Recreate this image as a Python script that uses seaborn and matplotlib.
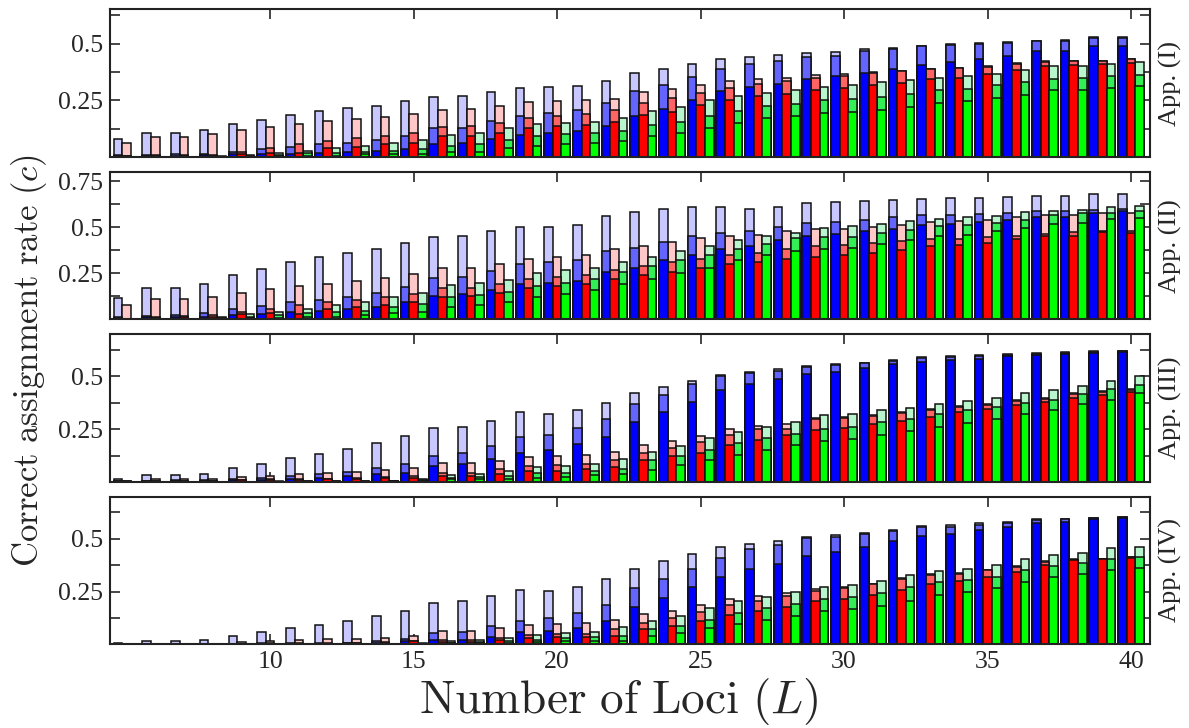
import numpy as np
import pandas as pd
import matplotlib
matplotlib.use("Agg")
import matplotlib.pyplot as plt
import seaborn as sns

# number of loci on the x axis
L = list(range(5, 41))

# App. (I)
p1_blue_light = [.078, .107, .108, .121, .145, .162, .184, .202, .216, .224, .247, .266, .270, .288, .306, .308, .314, .333, .370, .390, .412, .434, .440, .449, .459, .462, .474, .481, .491, .496, .501, .506, .513, .516, .528, .528]
p1_blue_mid = [.010, .010, .012, .015, .023, .034, .045, .057, .063, .075, .094, .126, .130, .158, .183, .194, .208, .237, .291, .319, .354, .387, .409, .425, .440, .447, .466, .477, .489, .494, .498, .503, .509, .512, .524, .524]
p1_blue_dark = [.005, .006, .007, .008, .012, .012, .015, .016, .023, .026, .035, .057, .063, .079, .096, .104, .114, .136, .183, .211, .250, .289, .307, .323, .345, .357, .371, .389, .406, .418, .430, .447, .469, .469, .488, .488]
p1_red_light = [.063, .089, .090, .101, .121, .132, .146, .159, .167, .175, .189, .209, .213, .225, .243, .246, .251, .257, .285, .298, .317, .333, .342, .350, .360, .364, .374, .379, .390, .393, .400, .415, .422, .425, .425, .433]
p1_red_mid = [.005, .008, .010, .010, .023, .038, .057, .070, .085, .092, .108, .133, .135, .152, .172, .181, .189, .206, .237, .259, .282, .306, .323, .333, .350, .355, .371, .377, .388, .391, .398, .412, .420, .423, .423, .431]
p1_red_dark = [.003, .004, .005, .005, .015, .019, .018, .041, .045, .056, .064, .092, .091, .105, .126, .135, .140, .154, .184, .200, .228, .253, .269, .279, .297, .304, .316, .326, .342, .350, .364, .382, .399, .404, .408, .415]
p1_green_light = [0, 0, .002, .003, .010, .019, .029, .038, .048, .060, .075, .098, .105, .129, .145, .149, .155, .171, .203, .219, .250, .268, .284, .296, .308, .316, .330, .338, .350, .357, .367, .382, .400, .400, .411, .418]
p1_green_mid = [0, 0, .001, .002, .005, .008, .016, .019, .023, .026, .035, .050, .056, .075, .092, .100, .104, .117, .142, .156, .183, .205, .225, .234, .250, .257, .264, .279, .297, .301, .316, .330, .345, .348, .357, .363]
p1_green_dark = [0, 0, 0, .001, .002, .003, .005, .007, .012, .012, .013, .022, .023, .038, .051, .056, .063, .073, .095, .107, .127, .152, .170, .180, .192, .199, .209, .221, .238, .246, .260, .272, .294, .294, .306, .311]

# App. (II)
p2_blue_light = [.119, .170, .173, .193, .243, .276, .311, .336, .363, .383, .414, .447, .455, .477, .50, .50, .51, .56, .58, .60, .61, .61, .60, .61, .632, .637, .640, .646, .655, .659, .659, .664, .667, .667, .680, .680]
p2_blue_mid = [.012, .021, .024, .034, .055, .075, .093, .108, .124, .142, .178, .224, .229, .263, .30, .31, .32, .37, .39, .42, .45, .47, .48, .50, .523, .528, .541, .553, .564, .568, .572, .577, .586, .586, .595, .600]
p2_blue_dark = [.008, .012, .012, .015, .023, .028, .041, .048, .059, .070, .093, .128, .137, .160, .19, .20, .21, .26, .28, .32, .35, .38, .40, .43, .455, .463, .481, .492, .510, .517, .528, .541, .553, .553, .577, .586]
p2_red_light = [.079, .111, .110, .122, .146, .164, .184, .195, .209, .226, .247, .278, .281, .302, .33, .34, .35, .38, .40, .42, .44, .45, .46, .48, .490, .490, .501, .514, .528, .531, .541, .553, .564, .568, .577, .577]
p2_red_mid = [.005, .015, .019, .023, .042, .059, .077, .093, .106, .121, .139, .170, .173, .193, .22, .23, .24, .27, .29, .31, .33, .35, .36, .38, .396, .401, .414, .427, .438, .438, .445, .455, .462, .472, .477, .477]
p2_red_dark = [.004, .010, .012, .012, .028, .034, .032, .059, .070, .079, .093, .124, .128, .146, .17, .18, .19, .22, .24, .26, .28, .30, .31, .33, .341, .347, .363, .378, .396, .406, .417, .438, .450, .450, .472, .469]
p2_green_light = [0, 0, .003, .012, .028, .039, .059, .079, .097, .121, .146, .188, .197, .215, .25, .27, .28, .31, .34, .37, .40, .43, .45, .47, .496, .504, .517, .531, .546, .553, .562, .583, .589, .595, .610, .613]
p2_green_mid = [0, 0, .002, .006, .015, .026, .034, .040, .047, .066, .083, .121, .132, .151, .18, .20, .22, .26, .29, .32, .35, .38, .41, .44, .445, .449, .468, .486, .504, .514, .523, .541, .564, .577, .577, .586]
p2_green_dark = [0, 0, 0, .002, .006, .009, .015, .015, .024, .034, .043, .070, .079, .097, .12, .14, .16, .19, .22, .25, .28, .32, .35, .37, .383, .390, .409, .432, .450, .457, .477, .496, .517, .523, .545, .550]

# App. (III)
p3_blue_light = [.012, .031, .031, .036, .064, .086, .112, .131, .154, .186, .217, .254, .260, .289, .331, .321, .340, .373, .420, .450, .479, .507, .523, .534, .550, .558, .566, .578, .590, .595, .600, .605, .610, .615, .620, .622]
p3_blue_mid = [.004, .006, .007, .008, .012, .017, .028, .036, .048, .064, .083, .123, .135, .170, .213, .222, .254, .300, .371, .412, .463, .500, .515, .528, .545, .553, .562, .574, .586, .591, .597, .602, .607, .612, .618, .620]
p3_blue_dark = [.002, .003, .004, .005, .010, .010, .014, .020, .028, .036, .044, .075, .083, .110, .139, .151, .181, .215, .286, .333, .381, .434, .463, .487, .510, .523, .539, .558, .570, .580, .585, .595, .600, .605, .612, .615]
p3_red_light = [.005, .015, .015, .012, .025, .028, .036, .040, .048, .056, .067, .088, .091, .099, .120, .123, .127, .142, .173, .192, .217, .253, .267, .276, .301, .308, .317, .330, .345, .360, .370, .390, .400, .420, .430, .440]
p3_red_mid = [.002, .005, .006, .006, .010, .012, .014, .016, .020, .025, .028, .044, .044, .060, .075, .078, .083, .102, .139, .159, .189, .222, .249, .249, .298, .305, .313, .325, .340, .355, .365, .385, .395, .415, .425, .435]
p3_red_dark = [.001, .003, .004, .004, .008, .008, .010, .015, .012, .017, .017, .028, .028, .036, .051, .051, .059, .070, .104, .123, .139, .175, .200, .221, .245, .257, .276, .290, .310, .330, .345, .365, .380, .400, .410, .425]
p3_green_light = [0, 0, 0, 0, .001, .002, .003, .004, .004, .005, .015, .033, .036, .051, .072, .075, .083, .107, .143, .170, .207, .238, .262, .284, .316, .324, .340, .350, .370, .385, .400, .420, .435, .455, .480, .500]
p3_green_mid = [0, 0, 0, 0, 0, .001, .002, .002, .002, .003, .008, .020, .023, .028, .043, .044, .051, .063, .102, .123, .151, .183, .210, .226, .253, .262, .284, .300, .320, .340, .355, .375, .390, .415, .440, .460]
p3_green_dark = [0, 0, 0, 0, 0, 0, .001, .001, .001, .002, .004, .012, .012, .015, .020, .024, .031, .036, .056, .078, .102, .127, .150, .173, .192, .205, .221, .240, .260, .280, .300, .320, .340, .370, .390, .420]

# App. (IV)
p4_blue_light = [.005, .016, .017, .020, .040, .057, .076, .092, .111, .135, .160, .196, .203, .227, .259, .254, .272, .310, .359, .394, .429, .461, .477, .490, .511, .518, .530, .542, .561, .566, .574, .582, .593, .596, .601, .604]
p4_blue_mid = [.001, .002, .002, .003, .003, .004, .004, .005, .008, .016, .025, .052, .060, .087, .111, .124, .148, .184, .267, .310, .359, .410, .450, .473, .502, .511, .525, .537, .556, .558, .566, .577, .589, .593, .599, .602]
p4_blue_dark = [0, .001, .001, .001, .002, .002, .002, .003, .004, .008, .014, .022, .022, .036, .057, .063, .076, .111, .175, .219, .270, .318, .359, .383, .418, .437, .461, .490, .513, .525, .541, .558, .573, .582, .596, .598]
p4_red_light = [.002, .003, .003, .003, .010, .014, .020, .025, .025, .030, .038, .063, .063, .076, .092, .095, .100, .116, .143, .160, .187, .216, .230, .243, .264, .272, .288, .312, .331, .339, .354, .370, .394, .402, .406, .415]
p4_red_mid = [.001, .001, .001, .001, .003, .004, .005, .006, .008, .010, .016, .020, .022, .030, .042, .047, .050, .072, .103, .124, .153, .184, .207, .227, .251, .268, .285, .309, .328, .335, .350, .366, .390, .401, .405, .413]
p4_red_dark = [0, 0, 0, 0, .001, .002, .002, .003, .004, .005, .014, .010, .012, .020, .030, .033, .033, .041, .072, .087, .111, .140, .160, .179, .207, .215, .235, .259, .286, .302, .320, .344, .378, .400, .404, .410]
p4_green_light = [0, 0, 0, 0, 0, 0, .001, .001, .002, .002, .004, .016, .020, .030, .042, .055, .060, .081, .111, .135, .172, .203, .224, .246, .270, .283, .302, .327, .346, .359, .378, .402, .423, .434, .455, .463]
p4_green_mid = [0, 0, 0, 0, 0, 0, 0, .001, .001, .001, .002, .008, .010, .016, .020, .030, .033, .041, .073, .088, .116, .148, .172, .192, .216, .224, .243, .270, .294, .307, .320, .351, .373, .386, .402, .413]
p4_green_dark = [0, 0, 0, 0, 0, 0, 0, 0, 0, 0, .001, .004, .005, .007, .012, .015, .016, .017, .038, .055, .076, .095, .113, .132, .156, .167, .183, .207, .232, .246, .267, .294, .320, .331, .351, .363]

panel_names = ["App. (I)", "App. (II)", "App. (III)", "App. (IV)"]
panel_ymax = [0.65, 0.8, 0.7, 0.7]
methods = ["blue", "red", "green"]
levels = ["light", "mid", "dark"]

series = {
    0: [p1_blue_light, p1_blue_mid, p1_blue_dark, p1_red_light, p1_red_mid, p1_red_dark,
        p1_green_light, p1_green_mid, p1_green_dark],
    1: [p2_blue_light, p2_blue_mid, p2_blue_dark, p2_red_light, p2_red_mid, p2_red_dark,
        p2_green_light, p2_green_mid, p2_green_dark],
    2: [p3_blue_light, p3_blue_mid, p3_blue_dark, p3_red_light, p3_red_mid, p3_red_dark,
        p3_green_light, p3_green_mid, p3_green_dark],
    3: [p4_blue_light, p4_blue_mid, p4_blue_dark, p4_red_light, p4_red_mid, p4_red_dark,
        p4_green_light, p4_green_mid, p4_green_dark],
}

palettes = {
    "light": ["#c8c8ff", "#ffc8c8", "#b8f5cc"],
    "mid": ["#6464ff", "#ff6464", "#33ee55"],
    "dark": ["#0000ff", "#ff0000", "#00ff00"],
}

# long-form table
rows = []
for p in range(4):
    for k, vals in enumerate(series[p]):
        m = methods[k // 3]
        lv = levels[k % 3]
        for l, v in zip(L, vals):
            rows.append({"panel": p, "method": m, "level": lv, "L": l, "value": v})
df = pd.DataFrame(rows)

sns.set_style("white")
plt.rcParams["font.family"] = ["Liberation Serif", "DejaVu Serif"]
plt.rcParams["mathtext.fontset"] = "cm"

fig, axes = plt.subplots(4, 1, figsize=(11.89, 7.28), dpi=100, sharex=True)
fig.subplots_adjust(left=0.0925, right=0.967, top=0.987, bottom=0.115, hspace=0.1)

for p, ax in enumerate(axes):
    sub = df[df["panel"] == p]
    # light bars first, darker ones drawn on top
    for lv in levels:
        sns.barplot(data=sub[sub["level"] == lv], x="L", y="value", hue="method",
                    hue_order=methods, palette=palettes[lv], native_scale=True,
                    width=0.9, gap=0, saturation=1, errorbar=None,
                    edgecolor="#111111", linewidth=1.1, legend=False, ax=ax)
    ax.set_xlim(4.42, 40.65)
    ax.set_ylim(0, panel_ymax[p])
    major = [0.25, 0.5, 0.75] if p == 1 else [0.25, 0.5]
    ax.set_yticks(major)
    ax.set_yticklabels([f"{t:g}" for t in major])
    ax.set_yticks([0.125, 0.375, 0.625], minor=True)
    ax.set_xticks([10, 15, 20, 25, 30, 35, 40])
    ax.set_axisbelow(True)
    ax.tick_params(which="both", direction="in", length=7, width=1.2,
                   top=True, bottom=True, left=True, right=True, labelsize=18.5, pad=5)
    ax.set_xlabel("")
    ax.set_ylabel("")
    for s in ax.spines.values():
        s.set_linewidth(1.5)
        s.set_color("#222222")
    ax.text(1.009, 0.5, panel_names[p], transform=ax.transAxes, rotation=90,
            ha="left", va="center", fontsize=19)

axes[-1].set_xticklabels(["10", "15", "20", "25", "30", "35", "40"])

fig.text(0.52, 0.002, r"$\mathrm{Number\ of\ Loci}\ (L)$", ha="center", va="bottom", fontsize=34)
fig.text(0.024, 0.505, r"$\mathrm{Correct\ assignment\ rate}\ (c)$", ha="center", va="center",
         rotation=90, fontsize=25)

fig.savefig("out.png", dpi=100)
